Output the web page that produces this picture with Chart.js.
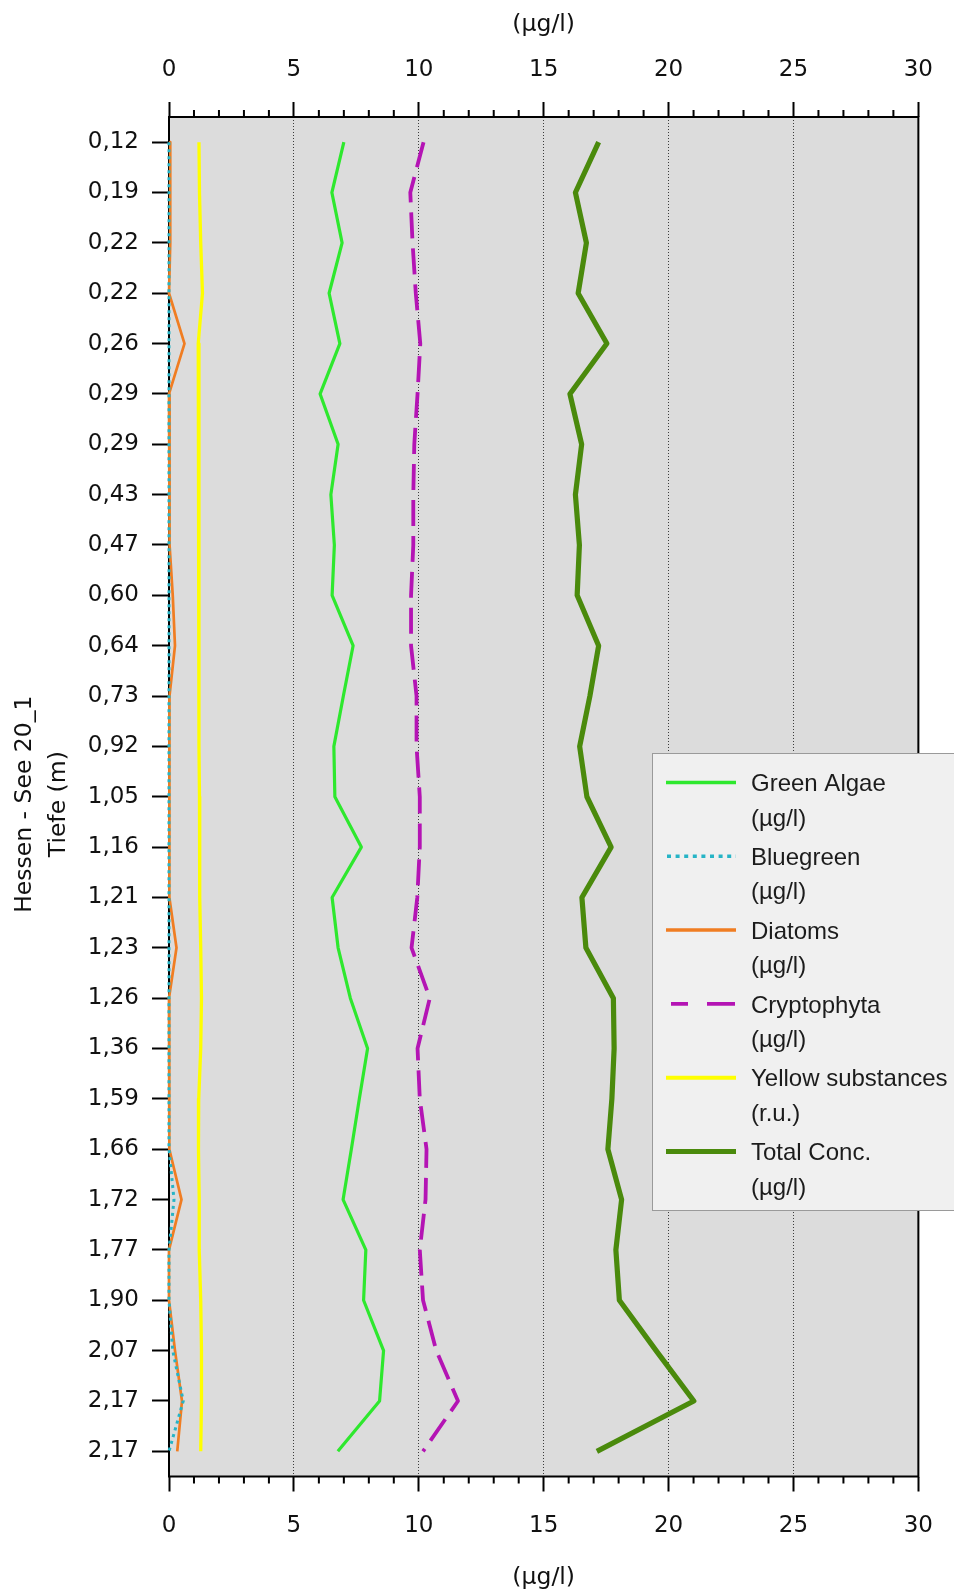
<!DOCTYPE html>
<html>
<head>
<meta charset="utf-8">
<title>Hessen - See 20_1</title>
<script src="https://cdn.jsdelivr.net/npm/chart.js@4.4.0/dist/chart.umd.min.js"></script>
<style>
  html, body { margin: 0; padding: 0; background: #ffffff; }
  #wrap { width: 954px; height: 1593px; position: relative; }
</style>
</head>
<body>
<div id="wrap"><canvas id="profile" width="954" height="1593"></canvas></div>
<script>
// Depth of each measurement (m), top to bottom
const depthLabels = ['0,12','0,19','0,22','0,22','0,26','0,29','0,29','0,43','0,47','0,60',
  '0,64','0,73','0,92','1,05','1,16','1,21','1,23','1,26','1,36','1,59',
  '1,66','1,72','1,77','1,90','2,07','2,17','2,17'];

// Concentrations per depth (µg/l), yellow substances in r.u.
const greenAlgae = [7.0, 6.52, 6.93, 6.41, 6.84, 6.05, 6.77, 6.48, 6.62, 6.53,
  7.37, 6.98, 6.6, 6.64, 7.7, 6.53, 6.77, 7.26, 7.95, 7.62,
  7.3, 6.97, 7.88, 7.79, 8.59, 8.43, 6.76];
const bluegreen = [0, 0, 0, 0, 0, 0, 0, 0, 0, 0,
  0, 0, 0, 0, 0, 0, 0, 0, 0, 0,
  0, 0.2, 0, 0, 0.15, 0.57, 0];
const diatoms = [0.05, 0.05, 0.05, 0, 0.62, 0, 0.02, 0.02, 0.03, 0.15,
  0.24, 0.02, 0.02, 0.02, 0.02, 0, 0.3, 0, 0.02, 0.02,
  0, 0.5, 0, 0, 0.24, 0.52, 0.33];
const cryptophyta = [10.19, 9.66, 9.75, 9.88, 10.06, 9.95, 9.82, 9.78, 9.78, 9.69,
  9.69, 9.91, 9.91, 10.04, 10.04, 9.94, 9.71, 10.44, 9.95, 10.04,
  10.31, 10.27, 10.04, 10.17, 10.7, 11.57, 10.17];
const yellowSubstances = [1.2, 1.22, 1.27, 1.34, 1.17, 1.2, 1.2, 1.2, 1.2, 1.2,
  1.2, 1.2, 1.2, 1.22, 1.22, 1.24, 1.27, 1.3, 1.27, 1.19,
  1.18, 1.21, 1.21, 1.27, 1.3, 1.3, 1.27];
const totalConc = [17.2, 16.27, 16.71, 16.38, 17.53, 16.05, 16.52, 16.27, 16.43, 16.34,
  17.2, 16.85, 16.44, 16.73, 17.7, 16.53, 16.69, 17.79, 17.82, 17.73,
  17.57, 18.12, 17.89, 18.03, 19.5, 21.01, 17.13];

// Value axis range and tick step
const xMin = 0, xMax = 30, xMajorStep = 5, xMinorStep = 1;

const seriesNames = ['Green Algae', 'Bluegreen', 'Diatoms', 'Cryptophyta', 'Yellow substances', 'Total Conc.'];
const seriesUnits = ['(µg/l)', '(µg/l)', '(µg/l)', '(µg/l)', '(r.u.)', '(µg/l)'];

const AXIS_FONT = 'DejaVu Sans';
const LEGEND_FONT = 'Liberation Sans';

// Grey plot background
const plotBackground = {
  id: 'plotBackground',
  beforeDraw(chart) {
    const { ctx, chartArea: a } = chart;
    ctx.save();
    ctx.fillStyle = '#dcdcdc';
    ctx.fillRect(a.left, a.top, a.right - a.left, a.bottom - a.top);
    ctx.restore();
  }
};

// Black frame round the plot and minor ticks on both value axes
const plotFrame = {
  id: 'plotFrame',
  beforeDatasetsDraw(chart) {
    const { ctx, chartArea: a } = chart;
    ctx.save();
    ctx.strokeStyle = '#000';
    ctx.lineWidth = 2;
    ctx.strokeRect(a.left, a.top, a.right - a.left, a.bottom - a.top);
    const bottomScale = chart.scales.x;
    const topScale = chart.scales.x2;
    ctx.beginPath();
    for (let v = xMin; v <= xMax; v += xMinorStep) {
      if (v % xMajorStep === 0) continue;
      const xb = bottomScale.getPixelForValue(v);
      ctx.moveTo(xb, a.bottom);
      ctx.lineTo(xb, a.bottom + 7);
      const xt = topScale.getPixelForValue(v);
      ctx.moveTo(xt, a.top);
      ctx.lineTo(xt, a.top - 7);
    }
    ctx.stroke();
    ctx.restore();
  }
};

// Legend box with two-line entries
const legendBox = {
  id: 'legendBox',
  afterDraw(chart) {
    const ctx = chart.ctx;
    const x0 = 652.5, y0 = 753.5, x1 = 962, y1 = 1210.5;
    ctx.save();
    ctx.fillStyle = '#f0f0f0';
    ctx.fillRect(x0, y0, x1 - x0, y1 - y0);
    ctx.strokeStyle = '#9a9a9a';
    ctx.lineWidth = 1;
    ctx.strokeRect(x0, y0, x1 - x0, y1 - y0);
    ctx.font = '24px "' + LEGEND_FONT + '"';
    ctx.textBaseline = 'middle';
    ctx.textAlign = 'left';
    chart.data.datasets.forEach((ds, i) => {
      const y = 782.5 + i * 73.8;
      ctx.save();
      ctx.strokeStyle = ds.borderColor;
      ctx.lineWidth = ds.legendWidth;
      ctx.lineCap = 'butt';
      ctx.setLineDash(ds.legendDash);
      ctx.beginPath();
      ctx.moveTo(ds.legendStart, y);
      ctx.lineTo(736, y);
      ctx.stroke();
      ctx.restore();
      ctx.fillStyle = '#1c1c1c';
      ctx.fillText(seriesNames[i], 751, y + 2);
      ctx.fillText(seriesUnits[i], 751, y + 36.5);
    });
    ctx.restore();
  }
};

function series(label, data, color, width, dash, legendWidth, legendDash, legendStart) {
  return {
    label, data,
    borderColor: color,
    backgroundColor: color,
    borderWidth: width,
    borderDash: dash,
    borderCapStyle: 'butt',
    borderJoinStyle: 'round',
    pointRadius: 0,
    pointHoverRadius: 0,
    tension: 0,
    fill: false,
    clip: false,
    legendWidth, legendDash, legendStart
  };
}

const datasets = [
  series(seriesNames[0], greenAlgae, '#2ee82e', 3.2, [], 3.5, [], 666),
  series(seriesNames[1], bluegreen, '#26b4c6', 3, [3, 4], 3.5, [4, 4.6], 667),
  series(seriesNames[2], diatoms, '#f07d22', 2.7, [], 3.5, [], 666),
  series(seriesNames[3], cryptophyta, '#b414b4', 3.8, [26, 10], 3.8, [17, 19, 28, 40], 671),
  series(seriesNames[4], yellowSubstances, '#ffff00', 3.3, [], 4, [], 666),
  series(seriesNames[5], totalConc, '#4a8a0c', 5.2, [], 4.8, [], 666)
];

const gridColor = (c) => (c.tick && c.tick.value > xMin && c.tick.value < xMax) ? '#3c3c3c' : 'rgba(0,0,0,0)';

const valueTicks = {
  stepSize: xMajorStep,
  maxRotation: 0,
  autoSkip: false,
  color: '#111',
  font: { family: AXIS_FONT, size: 23 }
};

new Chart(document.getElementById('profile'), {
  type: 'line',
  data: { labels: depthLabels, datasets },
  plugins: [plotBackground, plotFrame, legendBox],
  options: {
    indexAxis: 'y',
    responsive: false,
    animation: false,
    devicePixelRatio: 1,
    layout: { padding: { left: 0, right: 29.5, top: 0, bottom: 0 } },
    plugins: { legend: { display: false }, tooltip: { enabled: false } },
    events: [],
    scales: {
      y: {
        type: 'category',
        position: 'left',
        offset: true,
        grid: {
          drawOnChartArea: false, drawTicks: true,
          tickLength: 17, tickWidth: 2, tickColor: '#000', offset: false
        },
        border: { display: false },
        ticks: {
          autoSkip: false, padding: 13, color: '#111',
          font: { family: AXIS_FONT, size: 23 }
        },
        title: {
          display: true,
          text: ['Hessen - See 20_1  ', 'Tiefe (m)  '],
          color: '#111',
          font: { family: AXIS_FONT, size: 23.5, lineHeight: 34 / 23.5 },
          padding: { top: 7.5, bottom: 0 }
        },
        afterFit(scale) { scale.width = 169; }
      },
      x: {
        type: 'linear',
        position: 'bottom',
        min: xMin, max: xMax,
        grid: {
          color: gridColor, lineWidth: 1,
          drawOnChartArea: true, drawTicks: true,
          tickLength: 15, tickWidth: 2, tickColor: '#000'
        },
        border: { display: false, dash: [1, 2] },
        ticks: Object.assign({ padding: 21 }, valueTicks),
        title: {
          display: true, text: '(µg/l)', color: '#111',
          font: { family: AXIS_FONT, size: 23.5 },
          padding: { top: 0, bottom: 1.5 }
        },
        afterFit(scale) { scale.height = 116.5; }
      },
      x2: {
        type: 'linear',
        position: 'top',
        min: xMin, max: xMax,
        grid: {
          color: gridColor, lineWidth: 1,
          drawOnChartArea: false, drawTicks: true,
          tickLength: 15, tickWidth: 2, tickColor: '#000'
        },
        border: { display: false },
        ticks: Object.assign({ padding: 18 }, valueTicks),
        title: {
          display: true, text: '(µg/l)', color: '#111',
          font: { family: AXIS_FONT, size: 23.5 },
          padding: { top: 10.5, bottom: 0 }
        },
        afterFit(scale) { scale.height = 117; }
      }
    }
  }
});
</script>
</body>
</html>
